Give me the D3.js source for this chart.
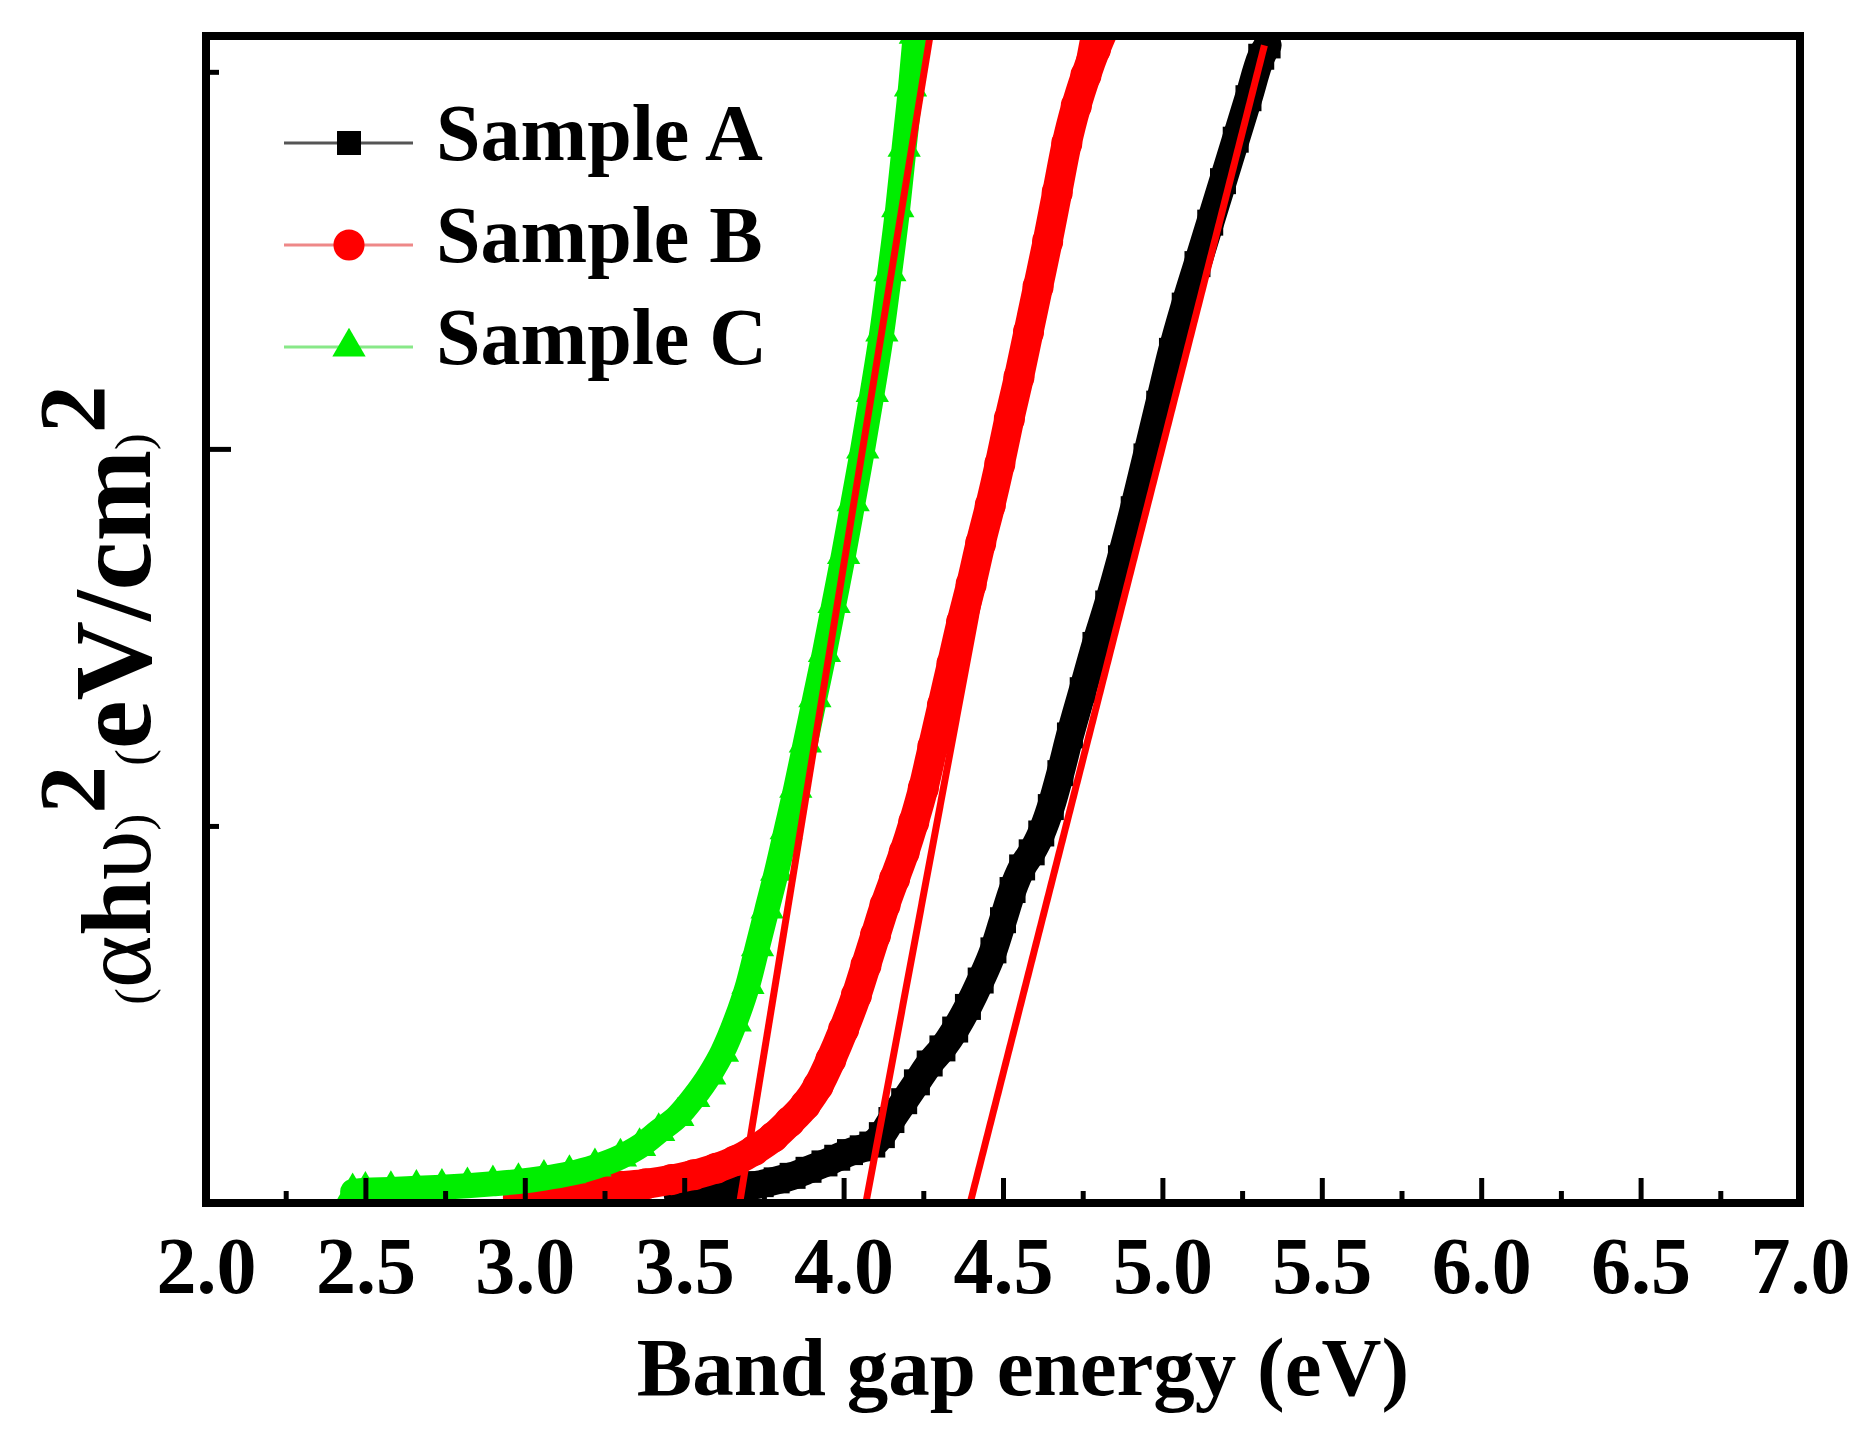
<!DOCTYPE html>
<html>
<head>
<meta charset="utf-8">
<script src="https://cdn.jsdelivr.net/npm/d3@7"></script>
<style>
body { margin: 0; background: #fff; }
</style>
</head>
<body>
<div id="chart"></div>
<script>
// (ahv)^2 against band gap energy: [eV, arb. units]
var sampleA = [[3.48,0.02],[3.55,0.027],[3.62,0.035],[3.68,0.043],[3.74,0.05],[3.79,0.06],[3.84,0.072],[3.89,0.088],
  [3.94,0.105],[3.98,0.12],[4.02,0.135],[4.06,0.145],[4.09,0.155],[4.12,0.18],[4.15,0.22],[4.19,0.27],[4.23,0.32],
  [4.27,0.37],[4.31,0.41],[4.35,0.46],[4.39,0.52],[4.43,0.59],[4.47,0.67],[4.50,0.75],[4.53,0.83],[4.56,0.89],
  [4.59,0.93],[4.62,0.98],[4.65,1.05],[4.68,1.14],[4.71,1.24],[4.75,1.36],[4.79,1.48],[4.83,1.59],[4.87,1.71],
  [4.91,1.84],[4.95,1.98],[4.99,2.12],[5.03,2.26],[5.07,2.38],[5.11,2.49],[5.15,2.60],[5.19,2.71],[5.23,2.82],
  [5.27,2.93],[5.31,3.04],[5.33,3.07]];
var sampleB = [[2.98,0.015],[3.06,0.02],[3.14,0.028],[3.22,0.036],[3.30,0.044],[3.38,0.051],[3.46,0.062],[3.53,0.075],
  [3.60,0.092],[3.66,0.112],[3.72,0.14],[3.78,0.175],[3.83,0.215],[3.88,0.26],[3.92,0.31],[3.96,0.38],[4.00,0.46],
  [4.04,0.55],[4.07,0.63],[4.10,0.71],[4.13,0.79],[4.16,0.86],[4.19,0.93],[4.22,1.01],[4.25,1.10],[4.28,1.21],
  [4.31,1.32],[4.34,1.43],[4.37,1.54],[4.40,1.64],[4.43,1.75],[4.46,1.85],[4.49,1.96],[4.52,2.08],[4.55,2.19],
  [4.58,2.31],[4.61,2.43],[4.64,2.55],[4.67,2.68],[4.70,2.81],[4.73,2.91],[4.76,2.99],[4.79,3.06],[4.82,3.12]];
var sampleC = [[2.46,0.03],[2.50,0.034],[2.58,0.036],[2.66,0.039],[2.74,0.042],[2.82,0.046],[2.90,0.051],[2.98,0.057],
  [3.06,0.066],[3.14,0.078],[3.22,0.096],[3.30,0.122],[3.36,0.15],[3.42,0.19],[3.48,0.23],[3.53,0.28],[3.58,0.34],
  [3.62,0.40],[3.66,0.48],[3.70,0.58],[3.73,0.68],[3.76,0.78],[3.79,0.88],[3.82,0.99],[3.85,1.10],[3.88,1.22],
  [3.91,1.34],[3.94,1.46],[3.97,1.59],[4.00,1.72],[4.03,1.86],[4.06,2.00],[4.09,2.15],[4.12,2.31],[4.145,2.47],
  [4.17,2.64],[4.19,2.80],[4.21,2.96],[4.225,3.10]];

// linear fits used for the band gap extrapolation
var fitA = [[4.397,0],[5.32,3.07]];
var fitB = [[4.07,0],[4.754,3.095]];
var fitC = [[3.674,0],[4.271,3.095]];

var seriesNames = ["Sample A", "Sample B", "Sample C"];
var xMajorTicks = [2.0, 2.5, 3.0, 3.5, 4.0, 4.5, 5.0, 5.5, 6.0, 6.5, 7.0];
var xMinorTicks = [2.25, 2.75, 3.25, 3.75, 4.25, 4.75, 5.25, 5.75, 6.25, 6.75];
var yMajorTicks = [0, 2];
var yMinorTicks = [1, 3];
var xLabel = "Band gap energy (eV)";

var serif = '"Liberation Serif", "Times New Roman", serif';
var colors = ["#000000", "#ff0000", "#00ee00"];
var legendColors = ["#555555", "#ee8888", "#88e888"];
var symbols = [d3.symbolSquare, d3.symbolCircle, d3.symbolTriangle];
var symbolSizes = [676, 760, 480];
var bandWidths = [28, 30, 25];

var width = 1866, height = 1440;
var pLeft = 206, pRight = 1800, pTop = 36, pBottom = 1203;

var x = d3.scaleLinear().domain([2, 7]).range([pLeft, pRight]);
var y = d3.scaleLinear().domain([0, 3.095]).range([pBottom, pTop]);

var svg = d3.select("#chart")
  .append("svg")
  .attr("width", width)
  .attr("height", height)
  .style("background", "#fff");

svg.append("defs").append("clipPath").attr("id", "plotArea")
  .append("rect")
  .attr("x", pLeft).attr("y", pTop)
  .attr("width", pRight - pLeft).attr("height", pBottom - pTop);

var plot = svg.append("g").attr("clip-path", "url(#plotArea)");

var line = d3.line()
  .x(function(d) { return x(d[0]); })
  .y(function(d) { return y(d[1]); })
  .curve(d3.curveMonotoneX);

var straight = d3.line()
  .x(function(d) { return x(d[0]); })
  .y(function(d) { return y(d[1]); });

[sampleA, sampleB, sampleC].forEach(function(data, i) {
  plot.append("path")
    .datum(data)
    .attr("d", line)
    .attr("fill", "none")
    .attr("stroke", colors[i])
    .attr("stroke-width", bandWidths[i])
    .attr("stroke-linejoin", "round")
    .attr("stroke-linecap", "round");

  plot.selectAll(null).data(data)
    .enter().append("path")
    .attr("d", d3.symbol().type(symbols[i]).size(symbolSizes[i]))
    .attr("transform", function(d) { return "translate(" + x(d[0]) + "," + y(d[1]) + ")"; })
    .attr("fill", colors[i]);
});

[fitA, fitB, fitC].forEach(function(fit) {
  plot.append("path")
    .datum(fit)
    .attr("d", straight)
    .attr("fill", "none")
    .attr("stroke", "#ff0000")
    .attr("stroke-width", 7);
});

// axes: ticks point inward, labels only on x
var xAxis = svg.append("g")
  .attr("transform", "translate(0," + pBottom + ")")
  .call(d3.axisBottom(x).tickValues(xMajorTicks).tickSizeInner(-25).tickSizeOuter(0)
    .tickPadding(33).tickFormat(d3.format(".1f")));
xAxis.select(".domain").remove();
xAxis.attr("font-family", serif).attr("font-size", 80).attr("font-weight", "bold");
xAxis.selectAll(".tick line").attr("stroke", "#000").attr("stroke-width", 5);
xAxis.selectAll(".tick text").attr("fill", "#000");

var xMinor = svg.append("g")
  .attr("transform", "translate(0," + pBottom + ")")
  .call(d3.axisBottom(x).tickValues(xMinorTicks).tickSizeInner(-12).tickSizeOuter(0).tickFormat(""));
xMinor.select(".domain").remove();
xMinor.selectAll(".tick line").attr("stroke", "#000").attr("stroke-width", 5);

var yAxis = svg.append("g")
  .attr("transform", "translate(" + pLeft + ",0)")
  .call(d3.axisLeft(y).tickValues(yMajorTicks).tickSizeInner(-25).tickSizeOuter(0).tickFormat(""));
yAxis.select(".domain").remove();
yAxis.selectAll(".tick line").attr("stroke", "#000").attr("stroke-width", 5);

var yMinor = svg.append("g")
  .attr("transform", "translate(" + pLeft + ",0)")
  .call(d3.axisLeft(y).tickValues(yMinorTicks).tickSizeInner(-13).tickSizeOuter(0).tickFormat(""));
yMinor.select(".domain").remove();
yMinor.selectAll(".tick line").attr("stroke", "#000").attr("stroke-width", 5);

svg.append("rect")
  .attr("x", pLeft).attr("y", pTop)
  .attr("width", pRight - pLeft).attr("height", pBottom - pTop)
  .attr("fill", "none")
  .attr("stroke", "#000")
  .attr("stroke-width", 8);

// axis titles
svg.append("text")
  .attr("x", 1023).attr("y", 1395)
  .attr("text-anchor", "middle")
  .attr("font-family", serif)
  .attr("font-size", 83)
  .attr("font-weight", "bold")
  .text(xLabel);

var yTitle = svg.append("text")
  .attr("transform", "translate(150,695) rotate(-90)")
  .attr("text-anchor", "middle")
  .attr("font-family", serif)
  .attr("font-size", 110)
  .attr("font-weight", "bold");
yTitle.append("tspan").attr("font-weight", "normal").attr("font-size", 50).text("(");
yTitle.append("tspan").attr("font-weight", "normal").attr("font-size", 100).text("α");
yTitle.append("tspan").attr("font-size", 100).text("h");
yTitle.append("tspan").attr("font-weight", "normal").attr("font-size", 100).text("υ");
yTitle.append("tspan").attr("font-weight", "normal").attr("font-size", 50).text(")");
yTitle.append("tspan").attr("font-size", 96).attr("dy", -45).text("2");
yTitle.append("tspan").attr("font-weight", "normal").attr("font-size", 50).attr("dy", 45).text("(");
yTitle.append("tspan").text("eV/cm");
yTitle.append("tspan").attr("font-weight", "normal").attr("font-size", 50).text(")");
yTitle.append("tspan").attr("font-size", 96).attr("dy", -45).text("2");

// legend
var legend = svg.append("g").attr("transform", "translate(284,143)");
seriesNames.forEach(function(name, i) {
  var row = legend.append("g").attr("transform", "translate(0," + (i * 102) + ")");
  row.append("line")
    .attr("x1", 0).attr("x2", 129)
    .attr("y1", 0).attr("y2", 0)
    .attr("stroke", legendColors[i])
    .attr("stroke-width", 3);
  row.append("path")
    .attr("d", d3.symbol().type(symbols[i]).size(symbolSizes[i] * (i === 0 ? 0.85 : 1.0)))
    .attr("transform", "translate(65,0)")
    .attr("fill", colors[i]);
  row.append("text")
    .attr("x", 152).attr("y", 17)
    .attr("font-family", serif)
    .attr("font-size", 80)
    .attr("font-weight", "bold")
    .attr("fill", "#000")
    .text(name);
});
</script>
</body>
</html>
